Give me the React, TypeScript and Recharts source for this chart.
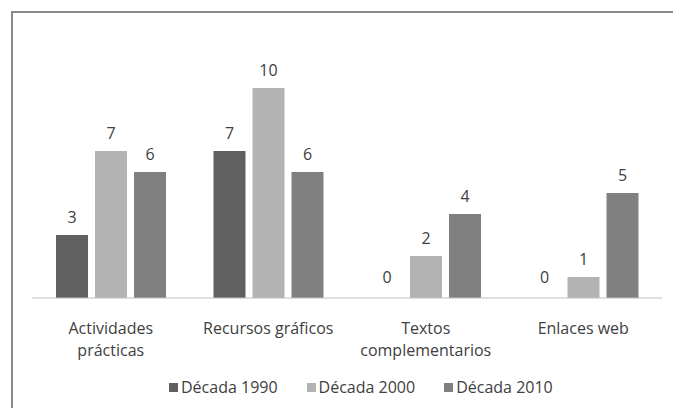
import React from "react";
import { BarChart, Bar, XAxis, YAxis, Legend, LabelList } from "recharts";

const categories = ["Actividades prácticas", "Recursos gráficos", "Textos complementarios", "Enlaces web"];
const tickLines = [["Actividades", "prácticas"], ["Recursos gráficos"], ["Textos", "complementarios"], ["Enlaces web"]];
const decada1990 = [3, 7, 0, 0];
const decada2000 = [7, 10, 2, 1];
const decada2010 = [6, 6, 4, 5];

const SERIES = [
  { key: "d1990", name: "Década 1990", color: "#606060" },
  { key: "d2000", name: "Década 2000", color: "#b3b3b3" },
  { key: "d2010", name: "Década 2010", color: "#808080" },
];

const data = categories.map((c, i) => ({
  name: c,
  d1990: decada1990[i],
  d2000: decada2000[i],
  d2010: decada2010[i],
}));

const FONT = "'Open Sans', sans-serif";
const TEXT = "#404040";
const FS = 16;

function CategoryTick(props: any) {
  const { x, y, payload } = props;
  const lines = tickLines[payload.index] || [payload.value];
  return (
    <text x={x} y={y} textAnchor="middle" fill={TEXT} fontSize={FS} fontFamily={FONT}>
      {lines.map((l: string, i: number) => (
        <tspan key={i} x={x} dy={i === 0 ? 28 : 22}>{l}</tspan>
      ))}
    </text>
  );
}

// draws the value above each bar, zeros included
function ValueLabel(props: any) {
  const { x, y, width, value } = props;
  if (value === undefined || value === null) return null;
  const gap = Number(value) === 0 ? 15 : 12;
  return (
    <text x={Number(x) + Number(width) / 2} y={Number(y) - gap} textAnchor="middle" fill={TEXT} fontSize={FS} fontFamily={FONT}>
      {value}
    </text>
  );
}

// zero bars get a hairline height so their label still gets drawn
const keepZero = (v: any) => (Number(v) === 0 ? 0.01 : 0);

function LegendBox() {
  return (
    <div style={{ display: "flex", gap: 29, fontFamily: FONT, fontSize: FS, color: TEXT, lineHeight: "20px" }}>
      {SERIES.map((s) => (
        <div key={s.key} style={{ display: "flex", alignItems: "center" }}>
          <span style={{ width: 9, height: 9, background: s.color, marginRight: 3, display: "inline-block" }} />
          <span>{s.name}</span>
        </div>
      ))}
    </div>
  );
}

export default function App() {
  return (
    <div style={{ position: "absolute", left: 0, top: 0, width: 673, height: 408, overflow: "hidden", background: "#fff" }}>
      <div style={{ position: "absolute", left: 11, top: 11, width: 700, height: 500, borderTop: "2px solid #8a8a8a", borderLeft: "2px solid #8a8a8a" }} />
      <BarChart
        width={673}
        height={408}
        data={data}
        margin={{ top: 46, right: 11, left: 32, bottom: 50 }}
        barSize={32}
        barGap={7}
      >
        <XAxis
          dataKey="name"
          height={60}
          axisLine={{ stroke: "#bfbfbf" }}
          tickLine={false}
          interval={0}
          tick={<CategoryTick />}
        />
        <YAxis hide domain={[0, 12]} />
        <Legend
          verticalAlign="middle"
          align="center"
          layout="horizontal"
          wrapperStyle={{ top: 377, left: 169, width: 500 }}
          content={() => <LegendBox />}
        />
        {SERIES.map((s) => (
          <Bar key={s.key} dataKey={s.key} name={s.name} fill={s.color} minPointSize={keepZero} isAnimationActive={false}>
            <LabelList dataKey={s.key} content={<ValueLabel />} />
          </Bar>
        ))}
      </BarChart>
    </div>
  );
}
